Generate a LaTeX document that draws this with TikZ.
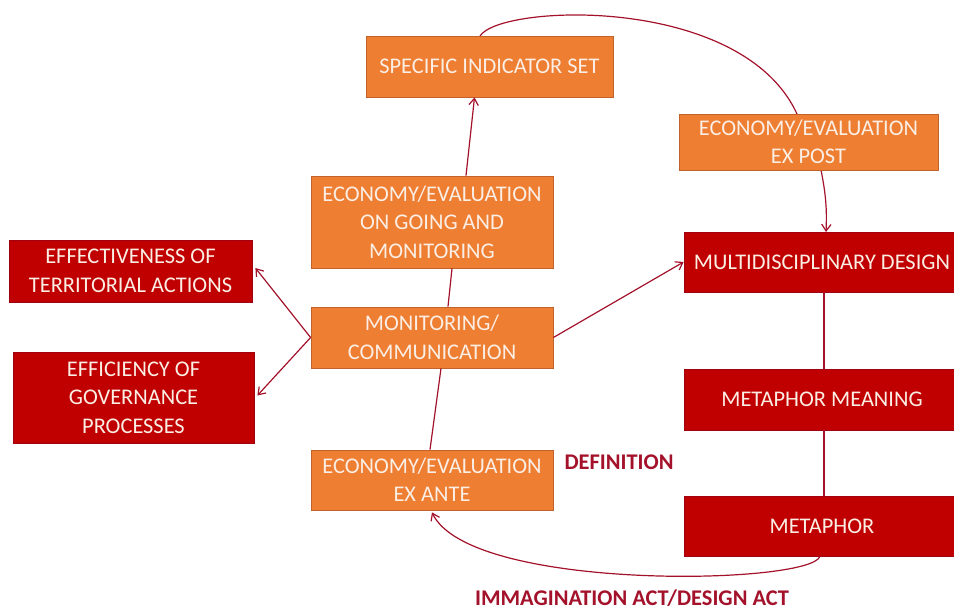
\documentclass[tikz,border=0pt]{standalone}
\usepackage{fontspec}
\setmainfont{Carlito}
\usetikzlibrary{arrows.meta,calc}
\definecolor{org}{HTML}{EE7E32}
\definecolor{orgb}{HTML}{C0622A}
\definecolor{dred}{HTML}{C00000}
\definecolor{dredb}{HTML}{A00010}
\definecolor{txt}{HTML}{FBEEE4}
\definecolor{lnc}{HTML}{A3122A}
\begin{document}
\begin{tikzpicture}[x=0.75pt,y=-0.75pt,
  box/.style={draw=orgb,line width=0.6pt,fill=org,text=txt,align=center,inner sep=0pt,
    font=\fontsize{16.8}{21.3}\selectfont},
  rbox/.style={box,draw=dredb,fill=dred},
  conn/.style={draw=lnc,line width=0.9pt},
  arr/.style={conn,-{Straight Barb[length=5pt,width=7pt]}},
  lbl/.style={text=lnc,font=\fontsize{16.8}{20}\selectfont\bfseries}]
\useasboundingbox (0,0) rectangle (954,613);
% connectors behind boxes
\draw[conn] (480,36) coordinate (c0) .. controls (500,4) and (742,-6) .. (797,114) coordinate (c1);
\draw[arr] (821,170) .. controls (826,195) and (827,210) .. (826,232);
% nodes
\node[box,minimum width=247*0.75pt,minimum height=61*0.75pt] (sis) at (489.5,66.5) {SPECIFIC INDICATOR SET};
\node[box,minimum width=259*0.75pt,minimum height=56*0.75pt] (expost) at (808.5,142) {ECONOMY/EVALUATION\\EX POST};
\node[box,minimum width=242*0.75pt,minimum height=92*0.75pt] (ongo) at (432,222) {ECONOMY/EVALUATION\\ON GOING AND\\MONITORING};
\node[rbox,minimum width=276*0.75pt,minimum height=60*0.75pt] (md) at (822,262) {MULTIDISCIPLINARY DESIGN};
\node[rbox,minimum width=243*0.75pt,minimum height=62*0.75pt] (eff) at (130.5,271) {EFFECTIVENESS OF\\TERRITORIAL ACTIONS};
\node[box,minimum width=242*0.75pt,minimum height=61*0.75pt] (mon) at (432,337.5) {MONITORING/\\COMMUNICATION};
\node[rbox,minimum width=241*0.75pt,minimum height=91*0.75pt] (effic) at (133.5,397.5) {EFFICIENCY OF\\GOVERNANCE\\PROCESSES};
\node[rbox,minimum width=276*0.75pt,minimum height=61*0.75pt] (mm) at (822,399.5) {METAPHOR MEANING};
\node[box,minimum width=242*0.75pt,minimum height=60*0.75pt] (exante) at (432,480) {ECONOMY/EVALUATION\\EX ANTE};
\node[rbox,minimum width=276*0.75pt,minimum height=60*0.75pt] (met) at (822,526) {METAPHOR};
\node[lbl] (def) at (619,462) {DEFINITION};
\node[lbl] (imm) at (632,598) {IMMAGINATION ACT/DESIGN ACT};
% straight connectors
\draw[conn] ($(exante.north)+(-2,0)$) -- ($(mon.south)+(9,0)$);
\draw[conn] ($(mon.north)+(16,0)$) -- ($(ongo.south)+(20,0)$);
\draw[arr] ($(ongo.north)+(34,0)$) -- ($(sis.south)+(-15,0)$);
\draw[arr] (mon.west) -- ($(eff.east)+(3,-3)$);
\draw[arr] (mon.west) -- ($(effic.east)+(3,-2)$);
\draw[arr] (mon.east) -- ($(md.west)+(0,0)$);
\draw[conn] ($(md.south)+(2,0)$) -- ($(mm.north)+(2,0)$);
\draw[conn] ($(mm.south)+(2,0)$) -- ($(met.north)+(2,0)$);
\draw[arr] ($(met.south)+(-2,0)$) .. controls (810,585) and (470,592) .. ($(exante.south)+(0,2)$);
\end{tikzpicture}
\end{document}
